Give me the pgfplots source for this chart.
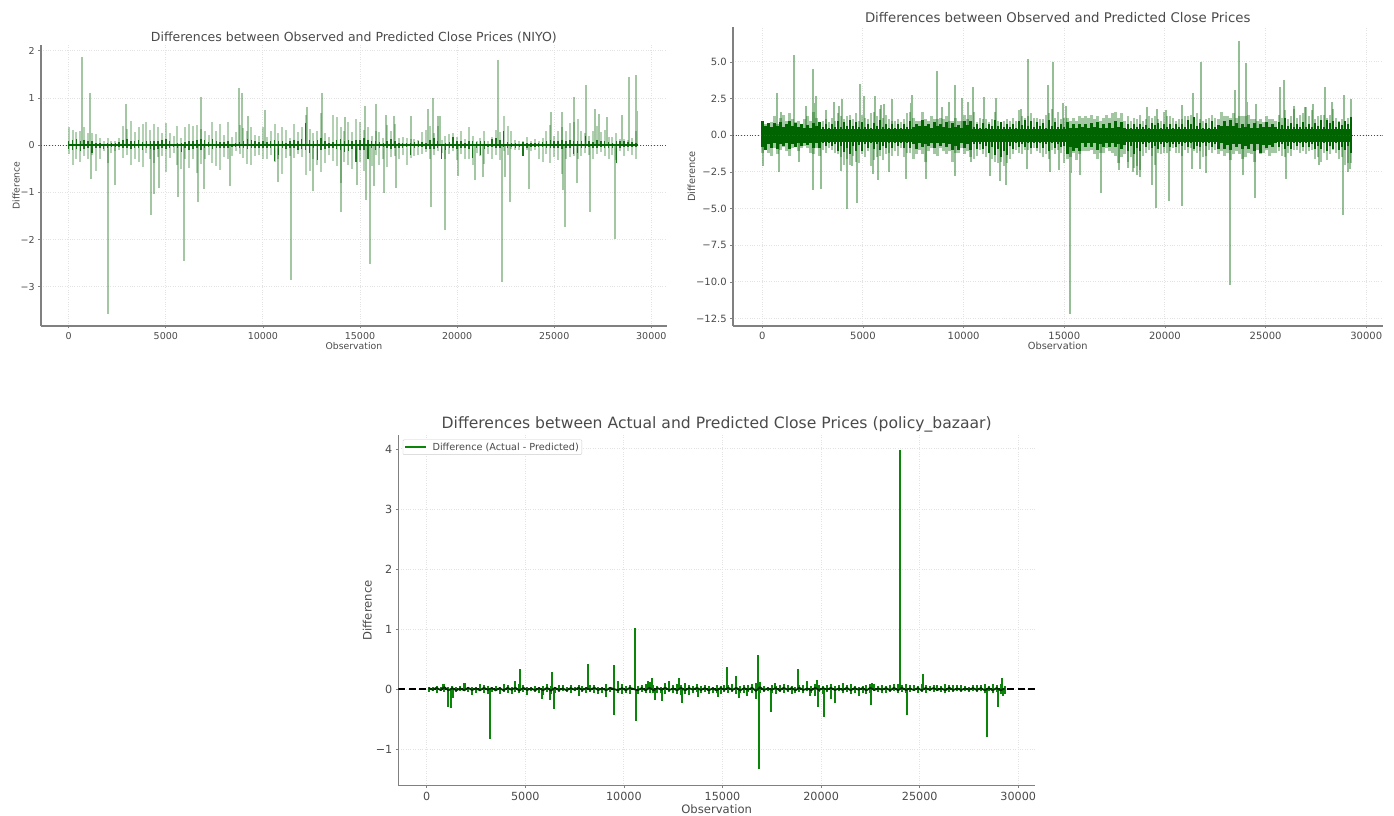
\documentclass[border=0pt]{standalone}
\usepackage{pgfplots}
\usepackage{pgfplotstable}
\usepackage{fontspec}
\setmainfont{DejaVu Sans}
\pgfplotsset{compat=1.18}
\definecolor{dg}{HTML}{006400}
\definecolor{pg}{HTML}{0A850A}
\definecolor{txt}{HTML}{4A4A4A}
\definecolor{spine}{HTML}{808080}
\definecolor{grd}{HTML}{E3E3E3}
\pgfplotstableread{
x u d cu cd
0 .38 -.18 .10 -.08
200 .33 -.41 .12 -.10
400 .29 -.30 .14 -.07
600 .30 -.35 .09 -.12
800 .39 -.22 .12 -.08
1000 .26 -.30 .08 -.06
1200 .27 -.20 .10 -.16
1400 .24 -.54 .05 -.06
1600 .16 -.30 .04 -.05
1800 .08 -.12 .03 -.07
2000 .15 -.38 .04 -.05
2200 .10 -.16 .04 -.03
2400 .10 -.12 .05 -.04
2600 .15 -.10 .07 -.04
2800 .40 -.28 .12 -.05
3000 .35 -.20 .13 -.06
3200 .52 -.42 .09 -.08
3400 .28 -.30 .10 -.06
3600 .38 -.36 .11 -.05
3800 .44 -.47 .06 -.09
4000 .50 -.16 .08 -.05
4200 .33 -.30 .10 -.07
4400 .46 -.38 .09 -.10
4600 .38 -.25 .08 -.08
4800 .27 -.22 .12 -.06
5000 .48 -.56 .14 -.08
5200 .25 -.28 .09 -.06
5400 .20 -.16 .03 -.04
5600 .40 -.42 .05 -.06
5800 .16 -.50 .04 -.14
6000 .38 -.30 .07 -.05
6200 .44 -.48 .10 -.09
6400 .40 -.30 .09 -.08
6600 .43 -.58 .12 -.06
6800 .35 -.40 .13 -.11
7000 .30 -.30 .12 -.05
7200 .22 -.20 .06 -.04
7400 .50 -.38 .13 -.08
7600 .30 -.44 .10 -.05
7800 .45 -.52 .07 -.06
8000 .22 -.25 .06 -.05
8200 .50 -.30 .09 -.05
8400 .18 -.22 .03 -.04
8600 .28 -.12 .05 -.03
8800 .42 -.18 .06 -.05
9000 .36 -.28 .08 -.06
9200 .30 -.40 .14 -.08
9400 .38 -.42 .12 -.06
9600 .22 -.22 .08 -.05
9800 .20 -.20 .07 -.05
10000 .38 -.30 .10 -.06
10200 .18 -.30 .06 -.05
10400 .30 -.20 .09 -.06
10600 .44 -.35 .12 -.34
10800 .25 -.30 .10 -.20
11000 .38 -.60 .10 -.06
11200 .32 -.28 .05 -.08
11400 .16 -.22 .08 -.05
11600 .44 -.28 .12 -.06
11800 .28 -.18 .08 -.10
12000 .38 -.25 .14 -.07
12200 .64 -.62 .48 -.10
12400 .35 -.54 .12 -.16
12600 .26 -.30 .10 -.06
12800 .30 -.42 .12 -.32
13000 .68 -.56 .16 -.10
13200 .25 -.38 .08 -.07
13400 .18 -.20 .05 -.06
13600 .65 -.34 .06 -.05
13800 .60 -.45 .12 -.08
14000 .38 -.80 .14 -.10
14200 .30 -.35 .10 -.14
14400 .50 -.42 .12 -.12
14600 .28 -.50 .08 -.08
14800 .55 -.30 .12 -.36
15000 .50 -.36 .12 -.10
15200 .32 -.55 .16 -.09
15400 .38 -.30 .12 -.30
15600 .20 -.44 .08 -.06
15800 .30 -.20 .09 -.10
16000 .28 -.42 .06 -.05
16200 .16 -.30 .04 -.04
16400 .42 -.46 .10 -.06
16600 .30 -.25 .14 -.08
16800 .44 -.22 .08 -.06
17000 .15 -.30 .05 -.05
17200 .18 -.20 .04 -.06
17400 .16 -.42 .05 -.04
17600 .14 -.28 .05 -.20
17800 .13 -.22 .06 -.05
18000 .12 -.20 .08 -.04
18200 .28 -.18 .07 -.03
18400 .32 -.15 .05 -.08
18600 .40 -.30 .12 -.08
18800 .25 -.20 .15 -.07
19000 .40 -.12 .08 -.05
19200 .12 -.16 .03 -.30
19400 .20 -.30 .04 -.10
19600 .24 -.18 .06 -.05
19800 .25 -.12 .18 -.05
20000 .18 -.32 .10 -.07
20200 .30 -.18 .09 -.05
20400 .14 -.30 .04 -.06
20600 .38 -.30 .08 -.07
20800 .20 -.42 .10 -.28
21000 .10 -.16 .06 -.05
21200 .15 -.22 .10 -.20
21400 .30 -.40 .08 -.08
21600 .10 -.18 .03 -.03
21800 .18 -.30 .14 -.03
22000 .33 -.20 .16 -.06
22200 .28 -.32 .12 -.06
22400 .62 -.12 .30 -.04
22600 .40 -.20 .06 -.05
22800 .30 -.08 .04 -.04
23000 .12 -.10 .05 -.06
23200 .08 -.10 .03 -.03
23400 .10 -.22 .06 -.22
23600 .18 -.10 .05 -.05
23800 .08 -.12 .04 -.03
24000 .13 -.10 .05 -.04
24200 .10 -.30 .05 -.03
24400 .15 -.35 .06 -.03
24600 .30 -.18 .10 -.05
24800 .42 -.38 .12 -.06
25000 .20 -.24 .09 -.05
25200 .30 -.32 .08 -.06
25400 .38 -.60 .12 -.07
25600 .30 -.30 .08 -.05
25800 .48 -.25 .12 -.06
26000 .50 -.22 .08 -.18
26200 .55 -.30 .09 -.16
26400 .30 -.22 .10 -.05
26600 .25 -.16 .20 -.06
26800 .20 -.20 .10 -.04
27000 .30 -.30 .07 -.05
27200 .40 -.18 .12 -.05
27400 .28 -.15 .08 -.04
27600 .33 -.22 .10 -.05
27800 .18 -.30 .06 -.05
28000 .18 -.20 .05 -.06
28200 .25 -.32 .08 -.38
28400 .13 -.12 .10 -.05
28600 .14 -.22 .08 -.04
28800 .12 -.12 .06 -.04
29000 .15 -.20 .06 -.04
29200 .30 -.30 .04 -.04
}\niyo
\pgfplotstableread{
x y
670 1.86
1100 1.10
2940 .87
6820 1.02
8745 1.22
8780 .80
8900 1.10
9210 .63
10120 .75
12270 .82
13060 1.10
14245 .60
15240 .83
15840 .87
16340 .65
16735 .63
17630 .63
18505 .77
18745 1.00
19020 .62
19105 .63
22080 1.81
24810 .70
25410 .70
26030 1.03
26630 1.27
27080 .77
27300 .67
27730 .60
28500 .65
28850 1.45
29190 1.49
29260 .73
1130 -.72
2010 -3.57
2390 -.85
4240 -1.48
4380 -1.03
4640 -.90
5635 -1.10
5945 -2.45
6650 -1.20
6975 -.93
8315 -.87
10800 -.78
11440 -2.85
12590 -.97
14000 -1.41
14845 -.85
15325 -1.15
15530 -2.52
15740 -.87
16235 -1.02
16855 -.90
18640 -1.30
19380 -1.79
20035 -.65
20945 -.73
21320 -.67
22320 -2.89
22490 -.67
22715 -1.21
23695 -.93
25445 -.95
25530 -1.73
26150 -.80
26855 -1.42
28110 -1.98
}\niyoBig
\pgfplotstableread{
x u d cu cd
0 1.0 -1.2 .95 -.80
150 .8 -1.0 .60 -1.00
300 .7 -1.2 .85 -.62
450 .9 -1.4 .55 -.85
600 1.3 -.9 .85 -.55
750 .8 -1.3 .60 -.92
900 1.2 -1.0 .90 -.60
1050 1.4 -.8 .55 -.75
1200 1.0 -1.1 .80 -.55
1350 1.5 -1.4 1.00 -.95
1500 1.1 -.9 .60 -.62
1650 .9 -.7 .85 -.82
1800 1.0 -1.1 .55 -.55
1950 .8 -.9 .75 -.70
2100 1.1 -.7 .50 -.50
2250 1.3 -.9 .70 -.68
2400 1.0 -1.2 .50 -.50
2550 1.6 -1.3 .85 -.90
2700 1.2 -.9 .60 -.55
2850 .9 -1.4 .90 -.85
3000 1.0 -1.0 .55 -.55
3150 1.1 -1.2 .80 -.72
3300 .9 -.9 .50 -.50
3450 1.2 -1.0 .80 -.75
3600 1.0 -1.2 .55 -.62
3750 1.5 -1.3 .95 -1.05
3900 1.3 -1.5 .58 -.70
4050 1.1 -2.0 .90 -1.15
4200 1.3 -1.6 .60 -.85
4350 1.4 -2.0 1.05 -1.30
4500 1.1 -1.4 .60 -.70
4650 1.5 -1.8 .90 -1.05
4800 1.0 -1.9 .55 -.65
4950 1.4 -1.3 .90 -1.05
5100 1.2 -1.5 .55 -.60
5250 1.1 -1.1 .80 -.85
5400 1.5 -2.1 .52 -.55
5550 1.6 -1.7 .85 -.95
5700 1.3 -1.5 .60 -.60
5850 1.8 -1.4 1.05 -1.00
6000 1.2 -1.7 .55 -.75
6150 1.4 -1.3 .80 -.90
6300 1.1 -1.2 .50 -.52
6450 1.0 -1.4 .75 -.85
6600 1.0 -1.1 .50 -.52
6750 1.1 -1.4 .80 -.75
6900 .9 -.9 .52 -.50
7050 1.1 -1.5 .80 -.90
7200 1.5 -1.2 .55 -.52
7350 1.6 -1.2 1.00 -.90
7500 1.2 -1.6 .55 -.58
7650 1.0 -1.3 .80 -.95
7800 1.0 -1.0 .60 -.55
7950 1.6 -1.3 1.05 -.80
8100 1.1 -1.8 .60 -.60
8250 1.0 -1.1 .80 -.75
8400 1.3 -.9 .50 -.50
8550 1.1 -1.3 .90 -.85
8700 1.1 -1.4 .60 -.55
8850 1.2 -.9 .80 -.75
9000 1.1 -1.1 .55 -.55
9150 1.3 -1.3 .90 -.80
9300 1.0 -1.1 .52 -.58
9450 1.0 -1.8 .85 -1.00
9600 1.2 -1.2 .55 -.70
9750 1.0 -1.2 .72 -1.00
9900 1.0 -.9 .52 -.52
10050 1.4 -1.3 1.00 -.85
10200 1.1 -1.1 .70 -.62
10350 1.4 -1.5 .95 -1.00
10500 1.6 -1.6 .58 -.62
10650 .9 -1.4 .75 -.95
10800 1.2 -1.0 .52 -.58
10950 1.1 -1.3 .82 -.95
11100 1.1 -1.5 .50 -.72
11250 .9 -1.1 .80 -1.20
11400 1.1 -1.6 .60 -.80
11550 1.6 -1.8 1.05 -1.35
11700 1.0 -1.9 .60 -.95
11850 .9 -1.8 .90 -1.45
12000 1.0 -2.1 .58 -1.05
12150 1.1 -1.9 .80 -1.35
12300 1.0 -1.6 .55 -.75
12450 1.2 -1.3 .80 -.95
12600 1.0 -1.0 .52 -.55
12750 1.7 -1.2 .95 -.82
12900 1.3 -1.3 .70 -.58
13050 1.2 -1.0 1.05 -.80
13200 1.3 -1.0 .60 -.52
13350 1.5 -1.3 .95 -.85
13500 1.2 -.9 .55 -.50
13650 1.2 -1.1 .90 -.90
13800 1.1 -1.2 .60 -.52
13950 1.1 -1.5 .85 -.85
14100 1.4 -1.3 .52 -.60
14250 1.5 -1.6 1.05 -1.05
14400 1.8 -1.0 .60 -.55
14550 1.2 -1.3 .90 -.90
14700 1.6 -1.0 .55 -.62
14850 1.1 -1.2 .75 -.80
15000 1.2 -1.9 .55 -.75
15150 1.2 -1.6 .90 -1.25
15300 1.0 -1.5 .50 -.80
15450 1.2 -1.2 .75 -1.05
15600 1.0 -1.7 .52 -.85
15750 1.3 -1.3 .80 -1.10
15900 1.2 -1.1 .55 -.55
16050 1.3 -1.1 .78 -.80
16200 1.2 -1.1 .52 -.55
16350 1.4 -1.0 .82 -.78
16500 1.1 -1.3 .55 -.52
16650 1.3 -1.6 .92 -1.00
16800 1.0 -1.2 .52 -.62
16950 1.2 -1.2 .78 -.80
17100 1.4 -.9 .50 -.50
17250 1.2 -1.1 .82 -.78
17400 1.5 -1.2 .52 -.55
17550 1.6 -1.4 .95 -.80
17700 1.2 -1.9 .55 -.60
17850 1.5 -1.5 .90 -.95
18000 1.0 -1.3 .50 -.65
18150 1.3 -1.8 .78 -1.05
18300 1.0 -1.5 .50 -.75
18450 1.2 -2.2 .80 -1.30
18600 1.1 -2.1 .55 -.85
18750 1.4 -2.4 .78 -1.05
18900 1.0 -1.4 .55 -.60
19050 1.1 -1.2 .72 -.80
19200 1.3 -1.0 .52 -.55
19350 1.2 -1.4 .85 -.90
19500 1.3 -2.0 .70 -.75
19650 1.1 -1.2 .82 -.92
19800 1.0 -1.3 .50 -.60
19950 1.6 -1.2 .80 -.82
20100 1.3 -1.2 .55 -.52
20250 1.3 -1.1 .78 -.80
20400 1.2 -.9 .50 -.62
20550 1.0 -1.2 .78 -.80
20700 1.1 -1.2 .55 -.58
20850 1.1 -1.4 .80 -.72
21000 1.3 -1.0 .58 -.52
21150 1.3 -1.2 1.05 -.82
21300 1.4 -.9 .80 -.55
21450 1.2 -1.1 1.25 -.95
21600 1.5 -1.2 .62 -.70
21750 1.1 -1.1 .82 -.82
21900 1.0 -1.5 .52 -.52
22050 1.1 -1.4 .82 -.72
22200 1.2 -1.0 .52 -.55
22350 1.4 -1.2 .95 -.78
22500 1.2 -1.0 .55 -.58
22650 1.1 -1.3 .72 -.95
22800 1.6 -1.1 .60 -.55
22950 1.3 -1.4 .95 -.92
23100 1.3 -1.2 .65 -.68
23250 1.2 -1.7 1.05 -1.02
23400 1.5 -1.3 .65 -.60
23550 1.2 -1.1 .82 -.80
23700 1.3 -1.3 .52 -.58
23850 1.3 -1.6 .78 -.95
24000 1.3 -1.5 .58 -.70
24150 1.4 -1.2 .80 -.92
24300 1.1 -1.3 .50 -.58
24450 1.1 -1.8 .82 -1.08
24600 1.0 -1.0 .52 -.62
24750 1.1 -1.3 .78 -1.20
24900 .9 -1.2 .55 -.65
25050 1.3 -1.0 .90 -.90
25200 1.1 -1.4 .55 -.65
25350 1.1 -1.2 .78 -.80
25500 1.0 -1.2 .58 -.55
25650 1.4 -1.1 .90 -.78
25800 1.2 -1.4 .72 -.58
25950 1.7 -1.5 1.20 -.95
26100 1.1 -1.2 .65 -.70
26250 1.3 -1.4 .85 -.92
26400 1.8 -1.0 .55 -.52
26550 1.2 -1.0 .80 -.72
26700 1.4 -1.2 .58 -.55
26850 1.5 -1.1 .92 -.80
27000 1.9 -1.3 .55 -.52
27150 1.3 -1.1 .80 -.82
27300 1.7 -1.0 .55 -.58
27450 1.1 -1.6 .85 -.92
27600 1.3 -1.5 .62 -.70
27750 1.4 -1.8 1.02 -.95
27900 1.4 -1.2 .55 -.55
28050 1.2 -1.7 1.05 -1.05
28200 1.4 -1.3 .85 -.75
28350 1.8 -1.0 .95 -.95
28500 1.2 -1.2 .55 -.52
28650 1.0 -1.6 .92 -1.02
28800 1.1 -1.5 .70 -.80
28950 1.0 -2.0 .95 -1.00
29100 1.2 -1.9 .75 -.72
29250 1.2 -1.9 1.25 -1.20
}\cpband
\pgfplotstableread{
x y
730 2.85
930 1.6
1570 5.45
2150 2.0
2500 4.5
2580 2.2
2650 2.7
3150 1.7
3545 2.3
3790 2.0
3975 2.45
4870 3.5
5050 2.7
5600 2.65
5910 2.05
6045 2.1
6460 2.5
7370 2.2
7450 2.75
8680 4.4
8940 1.9
9290 2.3
9570 3.4
9900 2.55
10235 2.25
10465 3.3
11010 2.6
11590 2.55
12835 1.8
13200 5.2
14170 3.45
14420 5.0
14935 2.2
15065 2.0
19125 1.9
19620 1.8
20035 1.75
20845 2.05
21390 2.9
21790 5.0
23460 3.1
23680 6.45
24040 4.9
24090 2.3
24505 2.1
25730 3.3
25900 3.8
26395 2.0
26975 1.9
27355 2.1
27950 3.3
28315 2.3
28875 2.75
29255 2.5
30 -2.1
830 -2.5
1820 -1.8
2500 -3.7
2930 -3.65
3925 -2.45
4205 -5.0
4440 -2.1
4700 -4.6
5480 -2.65
5760 -3.05
6290 -2.5
7150 -2.95
8130 -2.95
9570 -2.8
10350 -1.8
11310 -2.75
11790 -3.1
12090 -3.4
13130 -2.3
14290 -2.5
14735 -2.4
15265 -12.15
15350 -2.6
15780 -2.7
16840 -3.95
17730 -2.4
18180 -2.2
18430 -2.5
18595 -2.7
18760 -2.85
19340 -3.4
19570 -4.95
20200 -4.5
20860 -4.8
21360 -2.3
21740 -2.3
22020 -2.55
23245 -10.2
23890 -2.7
24470 -4.25
26030 -3.0
27635 -2.0
28860 -5.45
29075 -2.5
29190 -2.3
}\cpBig
\pgfplotstableread{
x u d c
100 .03 -.05 .015
300 .04 -.03 -.01
500 .05 -.06 .02
700 .03 -.04 -.015
900 .09 -.05 .03
1100 .04 -.06 -.02
1300 .05 -.08 .015
1500 .04 -.05 -.02
1700 .05 -.04 .01
1900 .10 -.03 -.02
2100 .04 -.05 .02
2300 .03 -.10 -.015
2500 .04 -.07 .01
2700 .08 -.04 -.02
2900 .07 -.06 .02
3100 .05 -.08 -.01
3300 .03 -.05 .015
3500 .05 -.04 -.02
3700 .04 -.08 .015
3900 .09 -.05 -.02
4100 .06 -.07 .02
4300 .03 -.08 -.01
4500 .05 -.05 .02
4700 .08 -.06 -.025
4900 .06 -.05 .02
5100 .04 -.10 -.015
5300 .03 -.04 .01
5500 .05 -.05 -.02
5700 .04 -.06 .015
5900 .05 -.10 -.02
6100 .09 -.05 .02
6300 .05 -.08 -.025
6500 .04 -.06 .02
6700 .07 -.05 -.015
6900 .06 -.04 .01
7100 .04 -.05 -.02
7300 .07 -.06 .015
7500 .04 -.04 -.01
7700 .06 -.12 .02
7900 .05 -.05 -.015
8100 .04 -.06 .015
8300 .06 -.05 -.01
8500 .07 -.07 .02
8700 .04 -.08 -.015
8900 .03 -.06 .01
9100 .08 -.12 -.02
9300 .04 -.05 .02
9700 .09 -.07 -.02
9900 .08 -.08 .015
10100 .05 -.07 -.02
10300 .06 -.09 .02
10700 .05 -.09 -.02
10900 .07 -.05 .015
11100 .09 -.06 -.02
11300 .12 -.07 .02
11500 .07 -.06 -.02
11700 .05 -.07 .015
11900 .04 -.06 -.01
12100 .10 -.08 .02
12300 .13 -.05 -.015
12500 .06 -.07 .01
12700 .08 -.09 -.02
12900 .07 -.10 .02
13100 .10 -.08 -.02
13300 .06 -.10 .015
13500 .05 -.06 -.01
13700 .08 -.05 .02
13900 .05 -.07 -.015
14100 .07 -.05 .015
14300 .05 -.08 -.02
14500 .04 -.06 .01
14700 .06 -.07 -.02
14900 .05 -.09 .015
15100 .07 -.05 -.01
15300 .06 -.07 .02
15500 .08 -.05 -.015
15700 .07 -.08 .02
15900 .05 -.07 -.02
16100 .06 -.06 .015
16300 .07 -.05 -.01
16500 .08 -.07 .02
16700 .10 -.08 -.03
16900 .12 -.07 .03
17100 .05 -.05 -.015
17300 .04 -.04 .01
17500 .07 -.06 -.01
17700 .05 -.09 .015
17900 .07 -.05 -.02
18100 .08 -.06 .02
18300 .06 -.05 -.01
18500 .05 -.08 .015
18700 .04 -.07 -.02
18900 .06 -.05 .02
19100 .07 -.06 -.015
19300 .06 -.04 .01
19500 .05 -.06 -.02
19700 .08 -.05 .02
19900 .06 -.05 -.015
20100 .05 -.08 .015
20300 .06 -.05 -.01
20500 .08 -.06 .02
20700 .05 -.05 -.015
20900 .07 -.04 .01
21100 .10 -.06 -.015
21300 .07 -.05 .02
21500 .08 -.09 -.02
21700 .05 -.07 .015
21900 .04 -.08 -.01
22100 .05 -.06 .015
22300 .07 -.08 -.02
22500 .09 -.06 .02
22700 .08 -.04 -.015
22900 .05 -.05 .01
23100 .06 -.07 -.01
23300 .05 -.06 .015
23500 .07 -.05 -.02
23700 .09 -.04 .02
23900 .08 -.06 -.02
24100 .06 -.05 .02
24300 .08 -.07 -.015
24500 .06 -.05 .01
24700 .07 -.04 -.015
24900 .05 -.06 .015
25100 .08 -.05 -.02
25300 .06 -.07 .015
25500 .05 -.04 -.01
25700 .07 -.05 .015
25900 .06 -.04 -.015
26100 .05 -.05 .01
26300 .09 -.06 -.02
26500 .07 -.05 .02
26700 .06 -.05 -.015
26900 .07 -.04 .01
27100 .06 -.05 -.015
27300 .05 -.04 .01
27500 .04 -.05 -.01
27700 .06 -.04 .015
27900 .07 -.05 -.015
28100 .06 -.04 .015
28300 .08 -.06 -.02
28500 .05 -.04 .015
28700 .08 -.06 -.02
28900 .07 -.05 .015
29100 .09 -.08 -.02
29300 .05 -.09 .01
}\pb
\pgfplotstableread{
x y
845 .09
1940 .10
4475 .13
4745 .33
6335 .28
8160 .42
9475 .40
9695 .13
10555 1.02
11230 .14
11435 .18
12800 .19
15235 .37
15680 .22
16795 .56
17660 .10
18850 .33
19305 .13
19810 .15
22590 .10
24015 3.98
25170 .25
29190 .19
1065 -.30
1250 -.32
1350 -.15
3225 -.83
5825 -.16
6230 -.18
6450 -.33
9070 -.13
9490 -.43
10620 -.54
11600 -.18
11940 -.20
12970 -.24
13745 -.14
14795 -.14
15815 -.15
16250 -.12
16695 -.16
16865 -1.34
17460 -.38
19440 -.12
19710 -.12
19865 -.30
20135 -.46
20510 -.16
20695 -.23
21900 -.12
22525 -.26
24340 -.43
28405 -.80
28980 -.30
29200 -.12
}\pbBig
\pgfplotsset{
  panel/.style={
    scale only axis, anchor=south west,
    axis lines=left,
    every outer x axis line/.style={-, spine, line width=1.6pt},
    every outer y axis line/.style={-, spine, line width=1.6pt},
    clip=true,
    scaled x ticks=false, scaled y ticks=false,
    xtick={0,5000,10000,15000,20000,25000,30000},
    xticklabels={0,5000,10000,15000,20000,25000,30000},
    grid=major, grid style={grd, dotted, line width=1pt},
    tick style={spine, line width=.8pt},
    tick align=outside, major tick length=2.5pt,
    every tick label/.style={text=txt},
    label style={text=txt},
    title style={text=txt},
  }
}
\begin{document}
\begin{tikzpicture}[x=1pt,y=1pt]
\path[use as bounding box] (0,0) rectangle (1394,816);
% --- NIYO
\begin{axis}[panel, at={(40.7pt,490pt)}, width=626.3pt, height=281pt,
  xmin=-1442, xmax=30808, ymin=-3.83, ymax=2.125,
  ytick={-3,-2,-1,0,1,2}, yticklabels={−3,−2,−1,0,1,2},
  tick label style={font=\fontsize{9.5}{10}\selectfont},
  xlabel={Observation}, ylabel={Difference},
  label style={font=\fontsize{9.3}{10}\selectfont},
  xlabel style={yshift=4pt}, ylabel style={yshift=-6pt},
  title={Differences between Observed and Predicted Close Prices (NIYO)},
  title style={font=\fontsize{12.5}{14}\selectfont, yshift=-7.5pt},
]
\addplot[ycomb, dg, opacity=.3, line width=2pt, mark=none] table[x=x,y=u]{\niyo};
\addplot[ycomb, dg, opacity=.3, line width=2pt, mark=none] table[x=x,y=d]{\niyo};
\addplot[ycomb, dg, opacity=.36, line width=2pt, mark=none] table[x=x,y=y]{\niyoBig};
\addplot[ycomb, dg, opacity=.85, line width=1.5pt, mark=none] table[x=x,y=cu]{\niyo};
\addplot[ycomb, dg, opacity=.85, line width=1.5pt, mark=none] table[x=x,y=cd]{\niyo};
\addplot[black!70, dotted, line width=.8pt] coordinates {(-1442,0) (30808,0)};
\addplot[dg, line width=1.6pt] coordinates {(0,0) (29300,0)};
\end{axis}
% --- second
\begin{axis}[panel, at={(732.7pt,490pt)}, width=650pt, height=299.3pt,
  xmin=-1470, xmax=30816, ymin=-13.0, ymax=7.4,
  ytick={-12.5,-10,-7.5,-5,-2.5,0,2.5,5},
  yticklabels={−12.5,−10.0,−7.5,−5.0,−2.5,0.0,2.5,5.0},
  tick label style={font=\fontsize{10}{11}\selectfont},
  xlabel={Observation}, ylabel={Difference},
  label style={font=\fontsize{9.8}{11}\selectfont},
  xlabel style={yshift=4pt}, ylabel style={yshift=-6pt},
  title={Differences between Observed and Predicted Close Prices},
  title style={font=\fontsize{13.3}{15}\selectfont, yshift=-6pt},
]
\addplot[ycomb, dg, opacity=.36, line width=2.4pt, mark=none] table[x=x,y=u]{\cpband};
\addplot[ycomb, dg, opacity=.36, line width=2.4pt, mark=none] table[x=x,y=d]{\cpband};
\addplot[ycomb, dg, opacity=.42, line width=2pt, mark=none] table[x=x,y=y]{\cpBig};
\addplot[ycomb, dg, line width=2.4pt, mark=none] table[x=x,y=cu]{\cpband};
\addplot[ycomb, dg, line width=2.4pt, mark=none] table[x=x,y=cd]{\cpband};
\addplot[dg, line width=13pt] coordinates {(0,0) (29300,0)};
\addplot[black!70, dotted, line width=.8pt] coordinates {(-1470,0) (30816,0)};
\end{axis}
% --- policy_bazaar
\begin{axis}[panel, at={(398.3pt,30.3pt)}, width=636.7pt, height=350.7pt,
  xmin=-1440, xmax=30847, ymin=-1.61, ymax=4.233,
  ytick={-1,0,1,2,3,4}, yticklabels={−1,0,1,2,3,4},
  tick label style={font=\fontsize{11.2}{12}\selectfont},
  xlabel={Observation}, ylabel={Difference},
  label style={font=\fontsize{11.6}{13}\selectfont},
  xlabel style={yshift=2pt}, ylabel style={yshift=-3pt},
  title={Differences between Actual and Predicted Close Prices (policy\_bazaar)},
  title style={font=\fontsize{15.6}{17}\selectfont, yshift=-7pt},
  legend cell align=left,
  legend style={at={(.007,.987)}, anchor=north west, draw=black!20, fill=white, rounded corners=1pt,
    font=\fontsize{9.7}{11}\selectfont, text=txt, inner sep=1pt},
  legend image code/.code={\draw[#1] (0pt,0pt) -- (21pt,0pt);},
]
\addplot[forget plot, black, dash pattern=on 7pt off 3.5pt, line width=1.5pt] coordinates {(-1440,0) (30847,0)};
\addplot[forget plot, ycomb, pg, line width=2pt, mark=none] table[x=x,y=y]{\pbBig};
\addplot[forget plot, ycomb, pg, line width=2pt, mark=none] table[x=x,y=u]{\pb};
\addplot[forget plot, ycomb, pg, line width=2pt, mark=none] table[x=x,y=d]{\pb};
\addplot[forget plot, black!70!green!60!black, line width=1.8pt] table[x=x,y=c]{\pb};
\addlegendimage{pg, line width=1.6pt}
\addlegendentry{\hspace{4pt}Difference (Actual - Predicted)}
\end{axis}
\end{tikzpicture}
\end{document}
